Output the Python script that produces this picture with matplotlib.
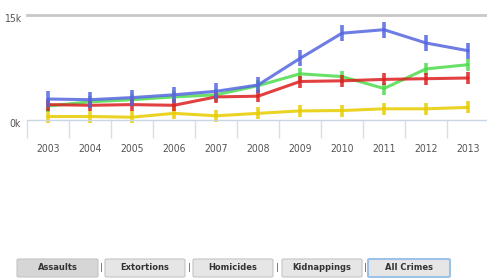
import numpy as np
import matplotlib
matplotlib.use("Agg")
import matplotlib.pyplot as plt
from matplotlib.patches import FancyBboxPatch

# data (thousands)
years = ["2003", "2004", "2005", "2006", "2007", "2008", "2009", "2010", "2011", "2012", "2013"]
blue = [3.0, 2.9, 3.2, 3.6, 4.1, 5.0, 8.8, 12.4, 12.9, 11.0, 9.9]
green = [2.0, 2.6, 2.9, 3.3, 3.6, 4.9, 6.6, 6.2, 4.5, 7.3, 7.9]
red = [2.2, 2.1, 2.2, 2.1, 3.3, 3.4, 5.5, 5.6, 5.8, 5.9, 6.0]
yellow = [0.5, 0.5, 0.4, 0.95, 0.6, 0.95, 1.3, 1.35, 1.6, 1.6, 1.8]
buttons = ["Assaults", "Extortions", "Homicides", "Kidnappings", "All Crimes"]

W, H = 487, 278
fig = plt.figure(figsize=(W / 100, H / 100), dpi=100)
lab = dict(family="DejaVu Sans", fontstretch="condensed", fontsize=7.5, color="#555555")

# axes: x 27..489 px, y 0k at 120 px, 15k at 15 px
ax = fig.add_axes([27 / W, (H - 120) / H, 462 / W, 105 / H])
ax.set_xlim(-0.5, 10.5)
ax.set_ylim(0, 15)
x = np.arange(len(years))

series = [(yellow, "#e8cc00", 8), (green, "#4fdc4f", 8), (red, "#dd2020", 8), (blue, "#5566e0", 11)]
for vals, col, ms in series:
    ax.plot(x, vals, color=col, lw=2.2, marker="|", ms=ms, mew=2.6, alpha=0.85,
            solid_capstyle="round", clip_on=False)

for s in ["top", "right", "left"]:
    ax.spines[s].set_visible(False)
ax.spines["bottom"].set_color("#c8d6e6")
ax.spines["bottom"].set_linewidth(1)
ax.axhline(15, color="#c8c8c8", lw=2, clip_on=False)

ax.set_yticks([])
ax.set_xticks(x)
ax.set_xticklabels(years, **lab)
ax.tick_params(axis="x", which="major", length=0, pad=17)
ax.set_xticks(np.arange(-0.5, 10.6, 1), minor=True)
ax.tick_params(axis="x", which="minor", length=13, width=1, color="#d4dfea", direction="out")

fig.text(21 / W, 1 - 14 / H, "15k", ha="right", va="top", **lab)
fig.text(21 / W, 1 - 119 / H, "0k", ha="right", va="top", **lab)

# buttons at bottom
bx = [(17, 98), (105, 185), (193, 273), (282, 362), (368, 450)]
for i, (name, (x0, x1)) in enumerate(zip(buttons, bx)):
    face = "#d6d6d6" if i == 0 else "#e6e6e6"
    edge = "#9cc2e6" if i == 4 else "#c4c4c4"
    lw = 1.5 if i == 4 else 0.8
    fig.patches.append(FancyBboxPatch((x0 / W, 1 - 277 / H), (x1 - x0) / W, 18 / H,
                                      boxstyle="round,pad=0,rounding_size=0.004",
                                      transform=fig.transFigure, facecolor=face,
                                      edgecolor=edge, lw=lw))
    fig.text((x0 + x1) / 2 / W, 1 - 268 / H, name, ha="center", va="center",
             fontsize=6, fontweight="bold", color="#333333", family="DejaVu Sans")
    if i < 4:
        sx = (x1 + bx[i + 1][0]) / 2
        fig.text(sx / W, 1 - 268 / H, "|", ha="center", va="center", fontsize=6.5, color="#555555")

fig.savefig("out.png", dpi=100)
